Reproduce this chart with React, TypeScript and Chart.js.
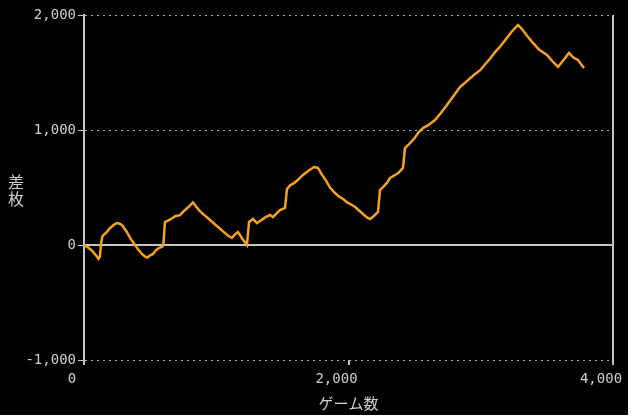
import React, { useEffect, useRef } from "react";
import { Chart, registerables } from "chart.js";

Chart.register(...registerables);

const games: number[] = [
  0, 30, 60, 90, 110, 120, 130, 140, 170, 200, 230, 250, 270, 290, 320, 350, 380, 410, 440, 460,
  480, 500, 520, 540, 560, 590, 600, 612, 650, 690, 726, 760, 790, 824, 850, 880, 910, 940, 970, 1000,
  1030, 1060, 1090, 1119, 1140, 1164, 1200, 1232, 1248, 1278, 1308, 1340, 1370, 1406, 1429, 1460, 1482, 1520, 1535, 1560,
  1590, 1620, 1656, 1690, 1739, 1769, 1800, 1830, 1860, 1898, 1930, 1960, 1990, 2026, 2050, 2080, 2110, 2140, 2163, 2190,
  2223, 2238, 2261, 2290, 2314, 2352, 2380, 2412, 2427, 2460, 2500, 2530, 2563, 2600, 2654, 2700, 2740, 2790, 2843, 2880,
  2920, 2960, 3000, 3040, 3070, 3110, 3150, 3190, 3230, 3282, 3310, 3350, 3395, 3440, 3501, 3540, 3584, 3620, 3667, 3700,
  3735, 3760, 3781,
];

const values: number[] = [
  0, -20, -50, -90, -120, -100, 20, 80, 110, 150, 180, 190, 185, 170, 120, 60, 10, -40, -80, -100,
  -110, -90, -80, -50, -30, -15, 0, 200, 220, 250, 260, 300, 330, 370, 330, 290, 260, 230, 200, 170,
  140, 110, 80, 61, 90, 113, 50, 0, 200, 226, 191, 215, 240, 261, 243, 280, 304, 322, 487, 520,
  540, 570, 609, 640, 678, 670, 610, 560, 500, 452, 420, 400, 370, 348, 330, 300, 270, 240, 226, 250,
  287, 478, 504, 540, 583, 609, 630, 670, 843, 880, 930, 980, 1017, 1040, 1087, 1150, 1210, 1290, 1374, 1410,
  1450, 1490, 1525, 1580, 1620, 1680, 1730, 1790, 1850, 1913, 1880, 1820, 1757, 1700, 1652, 1600, 1548, 1600, 1670, 1630,
  1609, 1570, 1539,
];

const xTicks: number[] = [0, 2000, 4000];
const yTicks: number[] = [-1000, 0, 1000, 2000];
const xTitle = "ゲーム数";
const yTitleChars: string[] = ["差", "枚"];

const fmt = (v: number) => v.toLocaleString("en-US");

export default function App() {
  const ref = useRef<HTMLCanvasElement | null>(null);

  useEffect(() => {
    if (!ref.current) return;
    const yTitlePlugin = {
      id: "yTitle",
      afterDraw(chart: any) {
        const { ctx, chartArea } = chart;
        const cy = (chartArea.top + chartArea.bottom) / 2;
        ctx.save();
        ctx.fillStyle = "#cfcfcf";
        ctx.font = "16px 'Noto Sans CJK JP'";
        ctx.textAlign = "center";
        ctx.textBaseline = "middle";
        yTitleChars.forEach((c, i) => {
          ctx.fillText(c, 16, cy - 6 + i * 17);
        });
        ctx.restore();
      },
    };

    const chart = new Chart(ref.current, {
      type: "line",
      data: {
        datasets: [
          {
            data: games.map((g, i) => ({ x: g, y: values[i] })),
            borderColor: "#f5a220",
            borderWidth: 2.5,
            pointRadius: 0,
            tension: 0,
            order: 1,
          },
          {
            data: [
              { x: xTicks[0], y: 0 },
              { x: xTicks[xTicks.length - 1], y: 0 },
            ],
            borderColor: "#c4c4c4",
            borderWidth: 2,
            pointRadius: 0,
            order: 2,
          },
        ],
      },
      options: {
        animation: false,
        responsive: false,
        maintainAspectRatio: false,
        layout: { padding: { top: 15, right: 15, bottom: 0, left: 0 } },
        plugins: { legend: { display: false }, tooltip: { enabled: false } },
        scales: {
          x: {
            type: "linear",
            min: 0,
            max: 4000,
            afterBuildTicks: (s: any) => {
              s.ticks = xTicks.map((v) => ({ value: v }));
            },
            afterFit: (s: any) => {
              s.height = 55;
              s.paddingLeft = 0;
              s.paddingRight = 0;
            },
            ticks: {
              color: "#cfcfcf",
              font: { family: "'DejaVu Sans Mono'", size: 14 },
              padding: 6,
              labelOffset: -12,
              maxRotation: 0,
              callback: (v: any) => fmt(Number(v)),
            },
            grid: {
              color: (c: any) => (c.tick && c.tick.value === 4000 ? "#c4c4c4" : "rgba(0,0,0,0)"),
              lineWidth: 2,
              tickColor: "#c4c4c4",
              tickLength: 5,
              drawOnChartArea: true,
            },
            border: { display: false },
            title: {
              display: true,
              text: xTitle,
              color: "#cfcfcf",
              font: { family: "'Noto Sans CJK JP'", size: 15 },
              padding: { top: 0, bottom: 3 },
            },
          },
          y: {
            type: "linear",
            min: -1000,
            max: 2000,
            afterBuildTicks: (s: any) => {
              s.ticks = yTicks.map((v) => ({ value: v }));
            },
            afterFit: (s: any) => {
              s.width = 84;
              s.paddingTop = 0;
              s.paddingBottom = 0;
            },
            ticks: {
              color: "#cfcfcf",
              font: { family: "'DejaVu Sans Mono'", size: 14 },
              padding: 2,
              callback: (v: any) => fmt(Number(v)),
            },
            grid: {
              color: (c: any) => (c.tick && c.tick.value === 0 ? "rgba(0,0,0,0)" : "#b0b0b0"),
              lineWidth: 1,
              tickColor: "#c4c4c4",
              tickLength: 6,
            },
            border: { display: true, color: "#c4c4c4", width: 2, dash: [2, 4] },
          },
        },
      },
      plugins: [yTitlePlugin],
    } as any);
    return () => chart.destroy();
  }, []);

  return (
    <div
      style={{
        position: "fixed",
        left: 0,
        top: 0,
        width: 628,
        height: 415,
        background: "#000",
      }}
    >
      <canvas ref={ref} width={628} height={415} style={{ display: "block" }} />
    </div>
  );
}
